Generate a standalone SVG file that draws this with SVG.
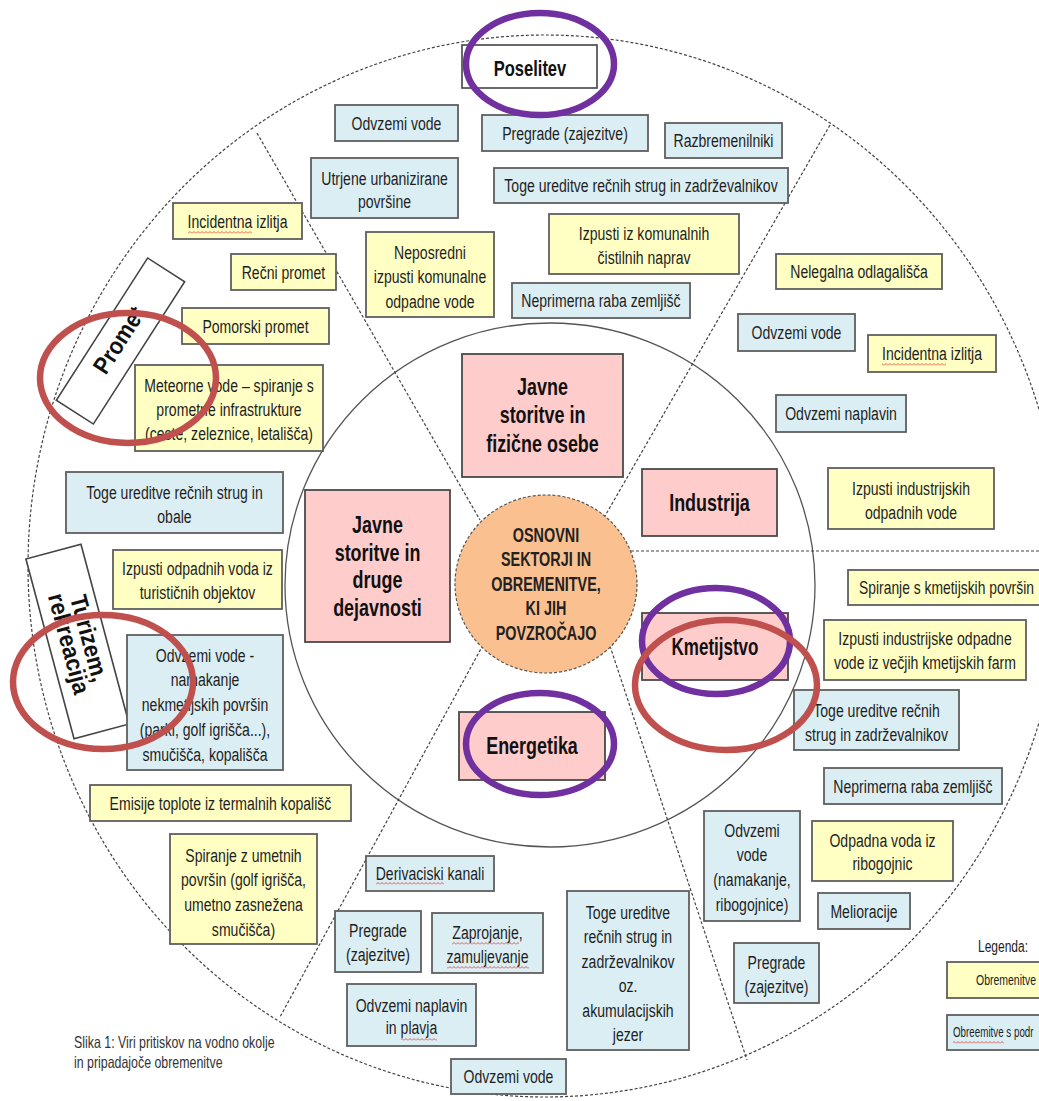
<svg xmlns="http://www.w3.org/2000/svg" width="1039" height="1101" viewBox="0 0 1039 1101">
<style>
.b{fill:#dbeef4;stroke:#5f5f5f;stroke-width:1.8}
.y{fill:#ffffc4;stroke:#5f5f5f;stroke-width:1.8}
.p{fill:#ffcccc;stroke:#4a4a4a;stroke-width:1.8}
.w{fill:#fff;stroke:#444;stroke-width:1.6}
.t{font-family:"Liberation Sans",Arial,sans-serif;font-size:19px;fill:#1e1e1e;text-anchor:middle}
.ts{font-family:"Liberation Sans",Arial,sans-serif;font-size:14px;fill:#1e1e1e;text-anchor:middle}
.tb{font-family:"Liberation Sans",Arial,sans-serif;font-weight:bold;font-size:23px;fill:#111;text-anchor:middle}
.tr{font-family:"Liberation Sans",Arial,sans-serif;font-weight:bold;font-size:24px;fill:#111;text-anchor:middle}
.to{font-family:"Liberation Sans",Arial,sans-serif;font-weight:bold;font-size:20px;fill:#222;text-anchor:middle}
.cap{font-family:"Liberation Sans",Arial,sans-serif;font-size:16.5px;fill:#333}
.dash{fill:none;stroke:#444;stroke-width:1.2;stroke-dasharray:3 2}
.ring{fill:none;stroke:#555;stroke-width:1.3}
.hp{fill:none;stroke:#7030a0;stroke-width:6.5}
.hr{fill:none;stroke:#c0504d;stroke-width:6.5}
.wave{fill:url(#wavy)}
</style>
<defs>
<pattern id="wavy" x="0" y="0" width="4" height="3" patternUnits="userSpaceOnUse">
<path d="M0 2.5 L2 0.5 L4 2.5" fill="none" stroke="#e03030" stroke-width="0.8"/>
</pattern>
</defs>
<rect x="0" y="0" width="1039" height="1101" fill="#fff"/>

<g id="dividers">
<ellipse class="dash" cx="545" cy="566" rx="517" ry="531"/>
<ellipse class="ring" cx="550" cy="585" rx="265" ry="262"/>
<line class="dash" x1="257" y1="133" x2="480" y2="520"/>
<line class="dash" x1="830" y1="125" x2="605" y2="516"/>
<line class="dash" x1="631" y1="551" x2="1039" y2="551"/>
<line class="dash" x1="610" y1="646" x2="747" y2="1060"/>
<line class="dash" x1="483" y1="645" x2="280" y2="1017"/>
</g>

<g id="center">
<ellipse cx="546" cy="584" rx="91" ry="89" fill="#fac090" stroke="#555" stroke-width="1.2" stroke-dasharray="3 2"/>
<text class="to" transform="translate(546,542) scale(.72,1)"><tspan x="0">OSNOVNI</tspan><tspan x="0" dy="24.5">SEKTORJI IN</tspan><tspan x="0" dy="24.5">OBREMENITVE,</tspan><tspan x="0" dy="24.5">KI JIH</tspan><tspan x="0" dy="24.5">POVZROČAJO</tspan></text>
</g>

<g id="sector-poselitev"><rect class="w" x="462" y="45" width="135" height="43"/><text class="tb" style="font-size:22px" transform="translate(530,76) scale(.75,1)">Poselitev</text></g>
<g id="sector-promet" transform="translate(120.5,341) rotate(-57.3)"><rect class="w" x="-84.5" y="-22" width="169" height="44"/><text class="tr" transform="translate(0,6.5) scale(.9,1)">Promet</text></g>
<g id="sector-turizem" transform="translate(77.5,641.5) rotate(75)"><rect class="w" x="-93" y="-28.5" width="186" height="57"/><text class="tr" transform="scale(.92,1)"><tspan x="0" y="-4">Turizem,</tspan><tspan x="0" y="17">rekreacija</tspan></text></g>

<g id="p-javne-fizicne"><rect class="p" x="462" y="354" width="161" height="123"/><text class="tb" transform="translate(542.5,395) scale(.78,1)"><tspan x="0">Javne</tspan><tspan x="0" dy="28.5">storitve in</tspan><tspan x="0" dy="28.5">fizične osebe</tspan></text></g>
<g id="p-industrija"><rect class="p" x="642" y="469" width="135" height="67"/><text class="tb" transform="translate(709.5,511) scale(.78,1)">Industrija</text></g>
<g id="p-javne-druge"><rect class="p" x="305" y="490" width="145" height="152"/><text class="tb" transform="translate(377.5,533) scale(.78,1)"><tspan x="0">Javne</tspan><tspan x="0" dy="27.7">storitve in</tspan><tspan x="0" dy="27.7">druge</tspan><tspan x="0" dy="27.7">dejavnosti</tspan></text></g>
<g id="p-kmetijstvo"><rect class="p" x="642" y="613" width="146" height="67"/><text class="tb" transform="translate(715,655) scale(.74,1)">Kmetijstvo</text></g>
<g id="p-energetika"><rect class="p" x="459" y="712" width="146" height="68"/><text class="tb" transform="translate(532,754) scale(.78,1)">Energetika</text></g>

<g id="n01"><rect class="b" x="335" y="105" width="123" height="36"/><text class="t" transform="translate(396.5,129.5) scale(.74,1)">Odvzemi vode</text></g>
<g id="n02"><rect class="b" x="482" y="115" width="166" height="36"/><text class="t" transform="translate(565,139.5) scale(.74,1)">Pregrade (zajezitve)</text></g>
<g id="n03"><rect class="b" x="665" y="123" width="117" height="35"/><text class="t" transform="translate(723.5,147) scale(.74,1)">Razbremenilniki</text></g>
<g id="n04"><rect class="b" x="311" y="158" width="147" height="60"/><text class="t" transform="translate(384.5,184.5) scale(.74,1)"><tspan x="0">Utrjene urbanizirane</tspan><tspan x="0" dy="24">površine</tspan></text></g>
<g id="n05"><rect class="b" x="494" y="168" width="294" height="35"/><text class="t" transform="translate(641,192) scale(.74,1)">Toge ureditve rečnih strug in zadrževalnikov</text></g>
<g id="n06"><rect class="y" x="173" y="203" width="129" height="36"/><text class="t" transform="translate(237.5,227.5) scale(.74,1)">Incidentna izlitja</text><rect class="wave" x="188" y="231" width="64" height="3"/></g>
<g id="n07"><rect class="y" x="549" y="214" width="190" height="60"/><text class="t" transform="translate(644,239.5) scale(.74,1)"><tspan x="0">Izpusti iz komunalnih</tspan><tspan x="0" dy="25">čistilnih naprav</tspan></text></g>
<g id="n08"><rect class="y" x="366" y="232" width="128" height="85"/><text class="t" transform="translate(430,258.5) scale(.74,1)"><tspan x="0">Neposredni</tspan><tspan x="0" dy="25">izpusti komunalne</tspan><tspan x="0" dy="25">odpadne vode</tspan></text></g>
<g id="n09"><rect class="y" x="231" y="254" width="105" height="36"/><text class="t" transform="translate(283.5,278.5) scale(.74,1)">Rečni promet</text></g>
<g id="n10"><rect class="y" x="776" y="254" width="166" height="35"/><text class="t" transform="translate(859,278) scale(.74,1)">Nelegalna odlagališča</text></g>
<g id="n11"><rect class="b" x="512" y="283" width="178" height="35"/><text class="t" transform="translate(601,307) scale(.74,1)">Neprimerna raba zemljišč</text></g>
<g id="n12"><rect class="y" x="182" y="308" width="147" height="36"/><text class="t" transform="translate(255.5,332.5) scale(.74,1)">Pomorski promet</text></g>
<g id="n13"><rect class="b" x="738" y="314" width="117" height="37"/><text class="t" transform="translate(796.5,339) scale(.74,1)">Odvzemi vode</text></g>
<g id="n14"><rect class="y" x="868" y="335" width="128" height="37"/><text class="t" transform="translate(932,360) scale(.74,1)">Incidentna izlitja</text><rect class="wave" x="882" y="363" width="64" height="3"/></g>
<g id="n15"><rect class="y" x="135" y="365" width="188" height="86"/><text class="t" transform="translate(229,391.5) scale(.74,1)"><tspan x="0">Meteorne vode – spiranje s</tspan><tspan x="0" dy="24.5">prometne infrastrukture</tspan><tspan x="0" dy="24.5">(ceste, zeleznice, letališča)</tspan></text></g>
<g id="n16"><rect class="b" x="776" y="395" width="130" height="37"/><text class="t" transform="translate(841,420) scale(.74,1)">Odvzemi naplavin</text></g>
<g id="n17"><rect class="y" x="828" y="468" width="166" height="61"/><text class="t" transform="translate(911,494.5) scale(.74,1)"><tspan x="0">Izpusti industrijskih</tspan><tspan x="0" dy="25">odpadnih vode</tspan></text></g>
<g id="n18"><rect class="b" x="66" y="472" width="217" height="61"/><text class="t" transform="translate(174.5,498.5) scale(.74,1)"><tspan x="0">Toge ureditve rečnih strug in</tspan><tspan x="0" dy="25">obale</tspan></text></g>
<g id="n19"><rect class="y" x="113" y="550" width="169" height="59"/><text class="t" transform="translate(197.5,574.5) scale(.74,1)"><tspan x="0">Izpusti odpadnih voda iz</tspan><tspan x="0" dy="25">turističnih objektov</tspan></text></g>
<g id="n20"><rect class="y" x="848" y="570" width="200" height="35"/><text class="t" transform="translate(946.5,594) scale(.73,1)">Spiranje s kmetijskih površin</text></g>
<g id="n21"><rect class="y" x="824" y="620" width="202" height="60"/><text class="t" transform="translate(925,644.5) scale(.74,1)"><tspan x="0">Izpusti industrijske odpadne</tspan><tspan x="0" dy="25">vode iz večjih kmetijskih farm</tspan></text></g>
<g id="n22"><rect class="b" x="127" y="635" width="156" height="135"/><text class="t" transform="translate(205,661.5) scale(.74,1)"><tspan x="0">Odvzemi vode -</tspan><tspan x="0" dy="25">namakanje</tspan><tspan x="0" dy="25">nekmetijskih površin</tspan><tspan x="0" dy="25">(parki, golf igrišča...),</tspan><tspan x="0" dy="25">smučišča, kopališča</tspan></text></g>
<g id="n23"><rect class="b" x="794" y="690" width="165" height="60"/><text class="t" transform="translate(876.5,716.5) scale(.74,1)"><tspan x="0">Toge ureditve rečnih</tspan><tspan x="0" dy="25">strug in zadrževalnikov</tspan></text></g>
<g id="n24"><rect class="b" x="824" y="768" width="178" height="36"/><text class="t" transform="translate(913,792.5) scale(.74,1)">Neprimerna raba zemljišč</text></g>
<g id="n25"><rect class="y" x="90" y="785" width="261" height="36"/><text class="t" transform="translate(220.5,809.5) scale(.74,1)">Emisije toplote iz termalnih kopališč</text></g>
<g id="n26"><rect class="b" x="704" y="811" width="96" height="110"/><text class="t" transform="translate(752,836.5) scale(.74,1)"><tspan x="0">Odvzemi</tspan><tspan x="0" dy="24.7">vode</tspan><tspan x="0" dy="24.7">(namakanje,</tspan><tspan x="0" dy="24.7">ribogojnice)</tspan></text></g>
<g id="n27"><rect class="y" x="812" y="821" width="141" height="60"/><text class="t" transform="translate(882.5,846.5) scale(.74,1)"><tspan x="0">Odpadna voda iz</tspan><tspan x="0" dy="24">ribogojnic</tspan></text></g>
<g id="n28"><rect class="y" x="170" y="834" width="147" height="110"/><text class="t" transform="translate(243.5,861.5) scale(.74,1)"><tspan x="0">Spiranje z umetnih</tspan><tspan x="0" dy="25">površin (golf igrišča,</tspan><tspan x="0" dy="25">umetno zasnežena</tspan><tspan x="0" dy="25">smučišča)</tspan></text></g>
<g id="n29"><rect class="b" x="366" y="856" width="128" height="35"/><text class="t" transform="translate(430,880) scale(.74,1)">Derivaciski kanali</text><rect class="wave" x="376" y="882" width="68" height="3"/></g>
<g id="n30"><rect class="b" x="567" y="891" width="122" height="159"/><text class="t" transform="translate(628,918.5) scale(.74,1)"><tspan x="0">Toge ureditve</tspan><tspan x="0" dy="24.6">rečnih strug in</tspan><tspan x="0" dy="24.6">zadrževalnikov</tspan><tspan x="0" dy="24.6">oz.</tspan><tspan x="0" dy="24.6">akumulacijskih</tspan><tspan x="0" dy="24.6">jezer</tspan></text></g>
<g id="n31"><rect class="b" x="818" y="893" width="92" height="36"/><text class="t" transform="translate(864,917.5) scale(.74,1)">Melioracije</text></g>
<g id="n32"><rect class="b" x="335" y="911" width="86" height="61"/><text class="t" transform="translate(378,936.5) scale(.74,1)"><tspan x="0">Pregrade</tspan><tspan x="0" dy="25">(zajezitve)</tspan></text></g>
<g id="n33"><rect class="b" x="432" y="913" width="111" height="60"/><text class="t" transform="translate(487.5,938.5) scale(.74,1)"><tspan x="0">Zaprojanje,</tspan><tspan x="0" dy="25">zamuljevanje</tspan></text><rect class="wave" x="452" y="942" width="67" height="3"/><rect class="wave" x="447" y="966" width="82" height="3"/></g>
<g id="n34"><rect class="b" x="734" y="943" width="85" height="60"/><text class="t" transform="translate(776.5,968.5) scale(.74,1)"><tspan x="0">Pregrade</tspan><tspan x="0" dy="25">(zajezitve)</tspan></text></g>
<g id="n35"><rect class="b" x="347" y="984" width="129" height="62"/><text class="t" transform="translate(411.5,1011.5) scale(.74,1)"><tspan x="0">Odvzemi naplavin</tspan><tspan x="0" dy="23">in plavja</tspan></text><rect class="wave" x="401" y="1038" width="36" height="3"/></g>
<g id="n36"><rect class="b" x="451" y="1059" width="115" height="35"/><text class="t" transform="translate(508.5,1083) scale(.74,1)">Odvzemi vode</text></g>

<g id="legend">
<text class="t" style="font-size:16px" transform="translate(1003,951.5) scale(.75,1)">Legenda:</text>
<rect class="y" x="947" y="962" width="100" height="36"/>
<text class="ts" transform="translate(1006,985) scale(.75,1)">Obremenitve</text>
<rect class="b" x="947" y="1015" width="100" height="35"/>
<text class="ts" style="text-anchor:start" transform="translate(953,1037) scale(.7,1)">Obreemitve s podr</text>
<rect class="wave" x="953" y="1041" width="51" height="3"/>
</g>

<g id="caption">
<text class="cap" transform="translate(74,1048) scale(.75,1)"><tspan x="0">Slika 1: Viri pritiskov na vodno okolje</tspan><tspan x="0" dy="20">in pripadajoče obremenitve</tspan></text>
</g>

<g id="highlights">
<ellipse class="hp" cx="540" cy="64" rx="74" ry="51"/>
<ellipse class="hr" cx="128" cy="378" rx="88" ry="65"/>
<ellipse class="hr" cx="103" cy="682" rx="90" ry="67"/>
<ellipse class="hp" cx="716" cy="641" rx="74" ry="53"/>
<ellipse class="hr" cx="726" cy="685" rx="91" ry="65"/>
<ellipse class="hp" cx="540" cy="744" rx="74" ry="51"/>
</g>
</svg>
